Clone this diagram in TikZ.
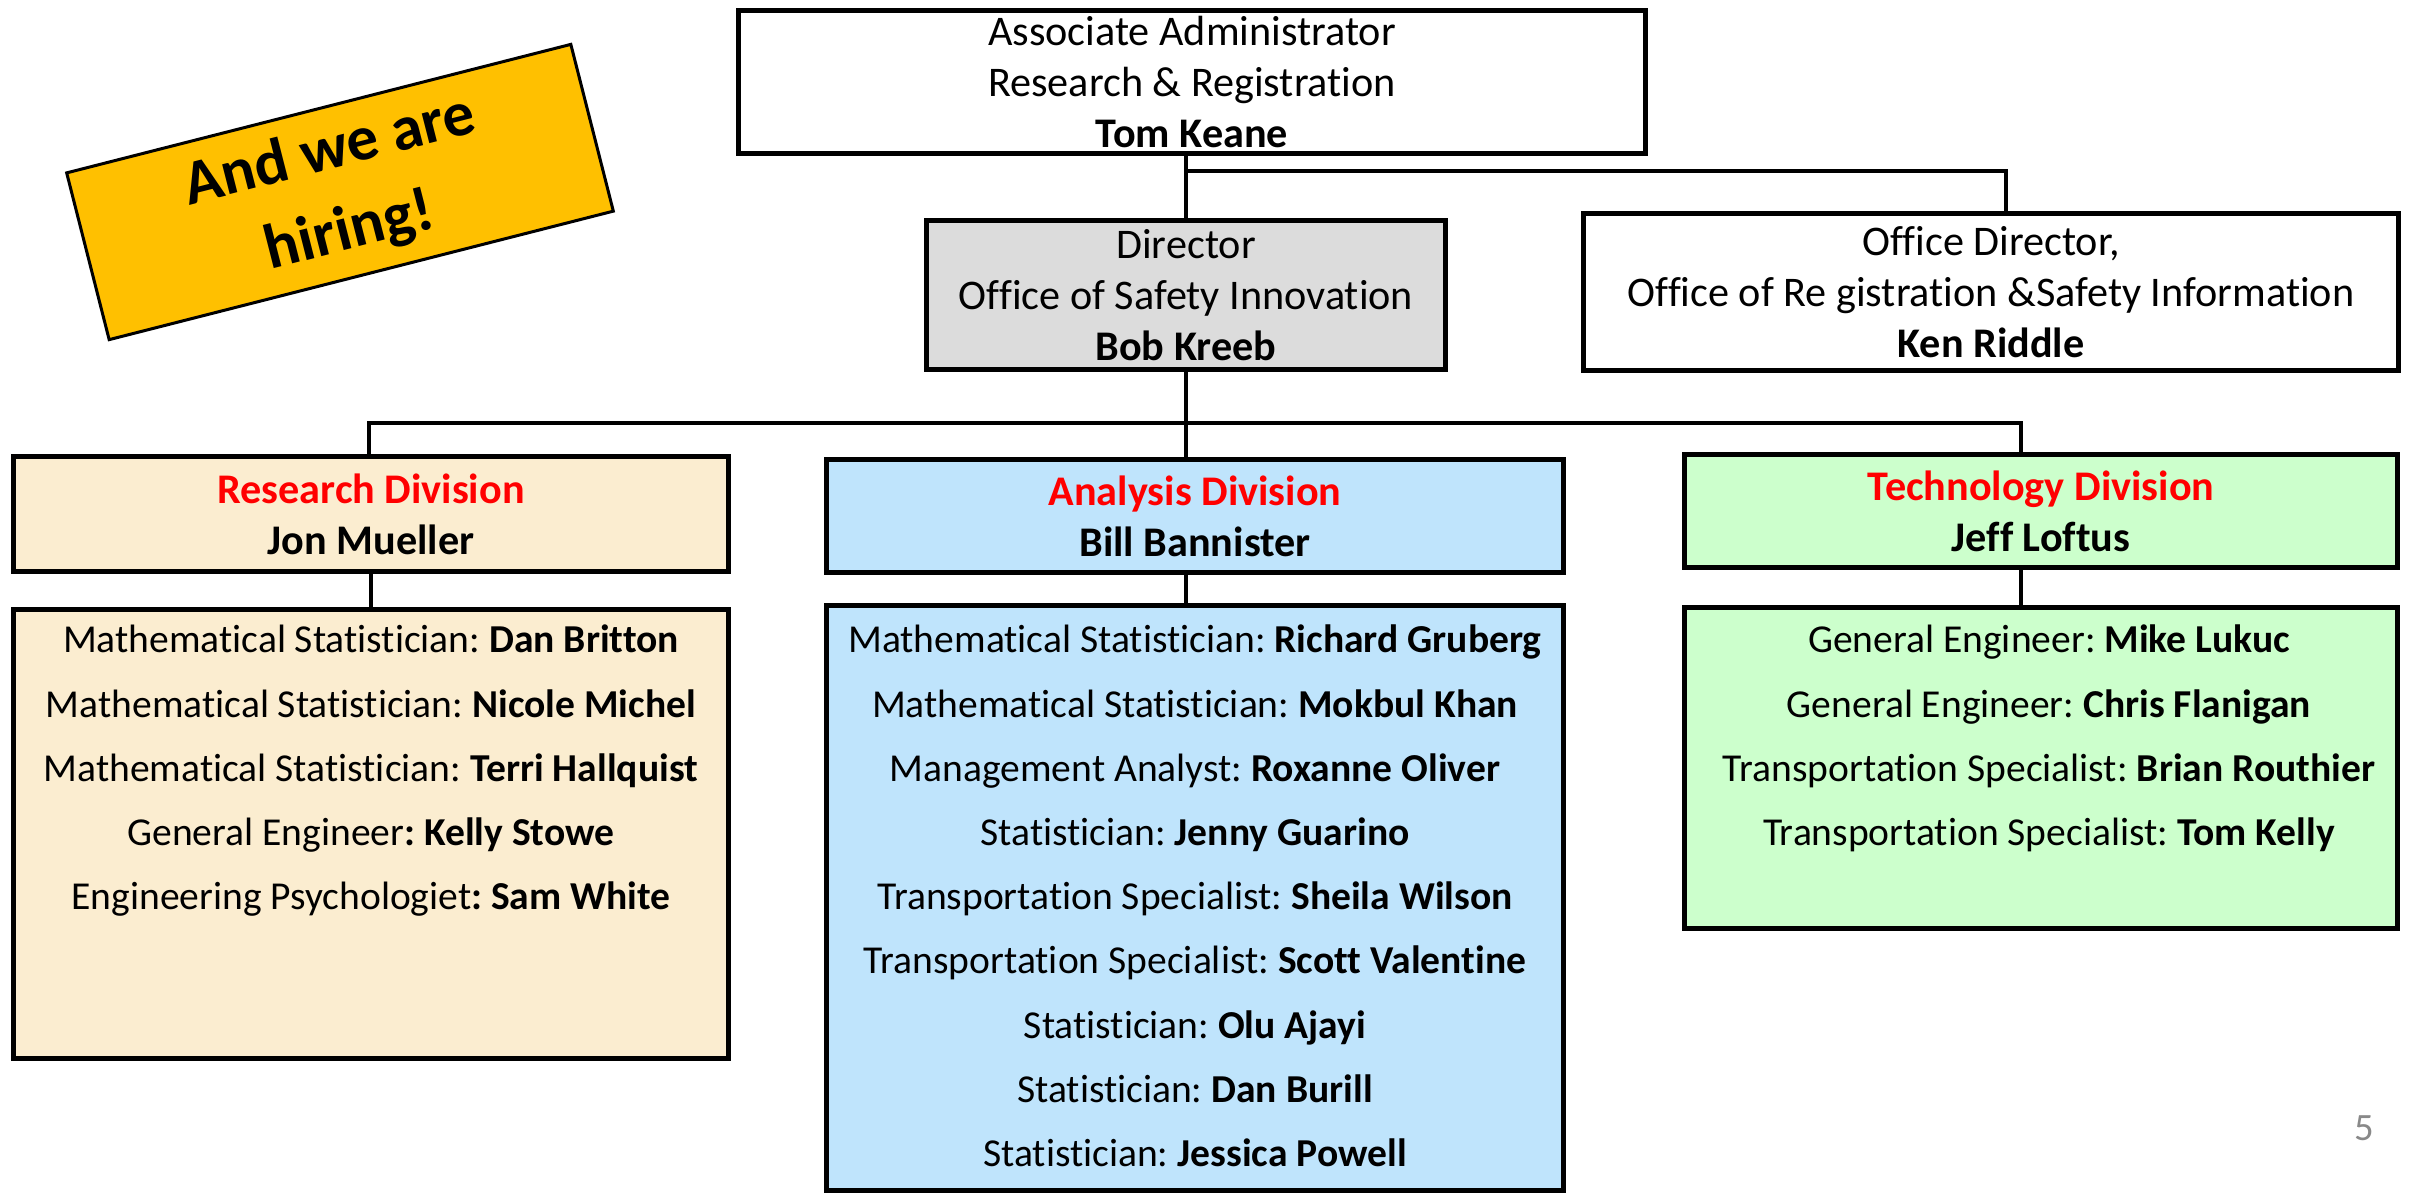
\documentclass[tikz,border=0pt]{standalone}
\usepackage{fontspec}
\setmainfont[Ligatures=NoCommon]{Carlito}
\usetikzlibrary{calc}
\frenchspacing

\definecolor{hiregold}{HTML}{FFC000}
\definecolor{bobgray}{HTML}{DCDCDC}
\definecolor{restan}{HTML}{FBEDD0}
\definecolor{anablue}{HTML}{BFE4FC}
\definecolor{techgreen}{HTML}{CCFFCC}
\definecolor{divred}{HTML}{FF0000}
\definecolor{pagegray}{HTML}{898989}

\tikzset{
	box/.style={draw, line width=0.5mm, align=center, inner sep=0pt, font=\fontsize{12}{14.5}\selectfont},
	divhead/.style={box, font=\bfseries\fontsize{12}{14.5}\selectfont},
	member/.style={inner sep=0pt, text height=8.4pt, text depth=2.8pt, font=\fontsize{11.25}{13.5}\selectfont},
	wire/.style={line width=0.4mm},
}

\begin{document}
\begin{tikzpicture}[x=0.01cm, y=-0.01cm]
		%%%%% START %%%%%
		\useasboundingbox (0,0) rectangle (2412,1196);
		
		\node[draw, line width=0.3mm, fill=hiregold, rotate=14.3, minimum width=5.2cm, minimum height=1.72cm, align=center, font=\bfseries\fontsize{18}{23.5}\selectfont] (hiring) at (340,192) {And we are\\hiring!};
		
		\node[box, minimum width=9.06cm, minimum height=1.42cm] (aa) at (1192,82) {Associate Administrator\\Research \& Registration\\\textbf{Tom Keane}};
		\node[box, fill=bobgray, minimum width=5.18cm, minimum height=1.49cm] (bob) at (1186,295) {Director\\Office of Safety Innovation\\\textbf{Bob Kreeb}};
		\node[box, minimum width=8.14cm, minimum height=1.56cm] (orsi) at (1991,292) {Office Director,\\Office of Re gistration \&Safety Information\\\textbf{Ken Riddle}};
		
		\coordinate (fork) at (1186,171);
		\coordinate (orsitop) at (2006,171);
		\draw[wire] (aa.south -| bob.north) -- (bob.north);
		\draw[wire] (fork) -- (orsitop) -- (orsitop |- orsi.north);
		
		\node[divhead, fill=restan, minimum width=7.14cm, minimum height=1.15cm] (res) at (371,514) {\textcolor{divred}{Research Division}\\Jon Mueller};
		\node[divhead, fill=anablue, minimum width=7.36cm, minimum height=1.13cm] (ana) at (1195,516) {\textcolor{divred}{Analysis Division}\\Bill Bannister};
		\node[divhead, fill=techgreen, minimum width=7.12cm, minimum height=1.12cm] (tech) at (2041,511) {\textcolor{divred}{Technology Division}\\Jeff Loftus};
		
		\node[box, fill=restan, minimum width=7.14cm, minimum height=4.48cm] (resdet) at (371,834) {};
		\node[box, fill=anablue, minimum width=7.36cm, minimum height=5.84cm] (anadet) at (1195,898) {};
		\node[box, fill=techgreen, minimum width=7.12cm, minimum height=3.21cm] (techdet) at (2041,768) {};
		
		\coordinate (busL) at (369,423);
		\coordinate (busR) at (2021,423);
		\draw[wire] (bob.south) -- (bob.south |- ana.north);
		\draw[wire] (busL |- res.north) -- (busL) -- (busR) -- (busR |- tech.north);
		\draw[wire] (res.south) -- (resdet.north);
		\draw[wire] (bob.south |- ana.south) -- (bob.south |- anadet.north);
		\draw[wire] (busR |- tech.south) -- (busR |- techdet.north);
		
		\foreach \who [count=\i] in {{Mathematical Statistician: \textbf{Dan Britton}},
			{Mathematical Statistician: \textbf{Nicole Michel}},
			{Mathematical Statistician: \textbf{Terri Hallquist}},
			{General Engineer\textbf{: Kelly Stowe}},
			{Engineering Psychologiet\textbf{: Sam White}}}
			\node[member] (res\i) at (371,{643+64.2*(\i-1)}) {\who};
		
		\foreach \who [count=\i] in {{Mathematical Statistician: \textbf{Richard Gruberg}},
			{Mathematical Statistician: \textbf{Mokbul Khan}},
			{Management Analyst: \textbf{Roxanne Oliver}},
			{Statistician: \textbf{Jenny Guarino}},
			{Transportation Specialist: \textbf{Sheila Wilson}},
			{Transportation Specialist: \textbf{Scott Valentine}},
			{Statistician: \textbf{Olu Ajayi}},
			{Statistician: \textbf{Dan Burill}},
			{Statistician: \textbf{Jessica Powell}}}
			\node[member] (ana\i) at (1195,{643+64.2*(\i-1)}) {\who};
		
		\foreach \who [count=\i] in {{General Engineer: \textbf{Mike Lukuc}},
			{General Engineer: \textbf{Chris Flanigan}},
			{Transportation Specialist: \textbf{Brian Routhier}},
			{Transportation Specialist: \textbf{Tom Kelly}}}
			\node[member] (tech\i) at (2049,{643+64.2*(\i-1)}) {\who};
		
		\node[text=pagegray, font=\fontsize{11}{13}\selectfont] (pagenum) at (2364,1128) {5};
		
		%%%%% END %%%%%
\end{tikzpicture}
\end{document}
